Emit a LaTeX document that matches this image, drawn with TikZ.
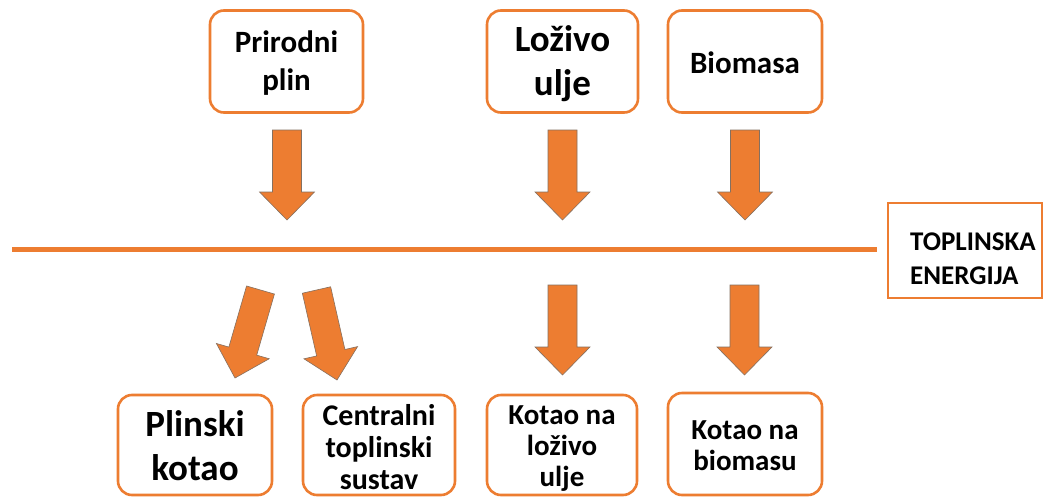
\documentclass[tikz,border=0pt]{standalone}
\usepackage{fontspec}
\setmainfont{Carlito}
\usetikzlibrary{calc}
\definecolor{orng}{HTML}{ED7D31}
\definecolor{arrowedge}{HTML}{857060}
\tikzset{
  rbox/.style={draw=orng, line width=2.6pt, rounded corners=14pt, fill=white,
    minimum width=153pt, minimum height=102pt, inner sep=0pt},
  sbox/.style={draw=orng, line width=2.6pt, fill=white,
    minimum width=154pt, minimum height=95pt, inner sep=0pt},
  btxt/.style={align=center, inner sep=0pt},
  barrow/.style={fill=orng, draw=arrowedge, line width=0.6pt, line join=miter},
  hline/.style={draw=orng, line width=5pt},
  fA/.style={font=\bfseries\fontsize{31}{38}\selectfont},
  fB/.style={font=\bfseries\fontsize{37}{44}\selectfont},
  fC/.style={font=\bfseries\fontsize{30}{32}\selectfont},
  fD/.style={font=\bfseries\fontsize{29}{31}\selectfont},
  fE/.style={font=\bfseries\fontsize{27}{34}\selectfont},
}
\newcommand\blockarrow[2]{%
  \path ($(#2)!28pt!(#1)$) coordinate (#1-h);
  \filldraw[barrow] ($(#1)!14.5pt!90:(#2)$) -- ($(#1-h)!14.5pt!90:(#2)$)
    -- ($(#1-h)!27.5pt!90:(#2)$) -- (#2) -- ($(#1-h)!27.5pt!-90:(#2)$)
    -- ($(#1-h)!14.5pt!-90:(#2)$) -- ($(#1)!14.5pt!-90:(#2)$) -- cycle;}
\begin{document}
\begin{tikzpicture}[x=1pt,y=-1pt]
\useasboundingbox (0,0) rectangle (1044,498);
\fill[white] (0,0) rectangle (1044,498);
% top boxes
\node[rbox] (pp) at (286.5,61.5) {};
\node[btxt, fA] (ppt) at ($(pp)+(0,2)$) {Prirodni\\plin};
\node[rbox, minimum width=151pt] (lu) at (562.5,61.5) {};
\node[btxt, fB] (lut) at ($(lu)+(0,2.5)$) {Loživo\\ulje};
\node[rbox, minimum width=154pt] (bm) at (745,61.5) {};
\node[btxt, fA] (bmt) at ($(bm)+(0,1)$) {Biomasa};
% bottom boxes
\node[rbox, minimum width=154pt, minimum height=100pt] (pk) at (195,445) {};
\node[btxt, fB] (pkt) at ($(pk)+(0,1)$) {Plinski\\kotao};
\node[rbox, minimum width=152pt, minimum height=100pt] (cts) at (379,445) {};
\node[btxt, fC] (ctst) at ($(cts)+(0,2)$) {Centralni\\toplinski\\sustav};
\node[rbox, minimum width=150pt, minimum height=100pt] (kl) at (562,445) {};
\node[btxt, fD] (klt) at ($(kl)+(0,4)$) {Kotao na\\loživo\\ulje};
\node[rbox, minimum width=154pt, minimum height=102pt] (kb) at (745,444) {};
\node[btxt, fD] (kbt) at ($(kb)+(0,1.5)$) {Kotao na\\biomasu};
% energy box
\node[sbox] (te) at (965,250.5) {};
\node[fE, align=left, anchor=west, inner sep=0pt] (tet) at (910,258.5) {TOPLINSKA\\ENERGIJA};
% horizontal line
\coordinate (l1) at (12,249);
\coordinate (l2) at (877,249);
\draw[hline] (l1) -- (l2);
% arrows
\coordinate (a1s) at (287,130);   \coordinate (a1t) at (287,220);
\coordinate (a2s) at (562.5,130); \coordinate (a2t) at (562.5,220);
\coordinate (a3s) at (745,130);   \coordinate (a3t) at (745,220);
\coordinate (b1s) at (260.5,290); \coordinate (b1t) at (235,378);
\coordinate (b2s) at (316.5,290); \coordinate (b2t) at (337,380);
\coordinate (b3s) at (562.5,285); \coordinate (b3t) at (562.5,375);
\coordinate (b4s) at (744.5,285); \coordinate (b4t) at (744.5,375);
\blockarrow{a1s}{a1t}
\blockarrow{a2s}{a2t}
\blockarrow{a3s}{a3t}
\blockarrow{b1s}{b1t}
\blockarrow{b2s}{b2t}
\blockarrow{b3s}{b3t}
\blockarrow{b4s}{b4t}
\end{tikzpicture}
\end{document}
